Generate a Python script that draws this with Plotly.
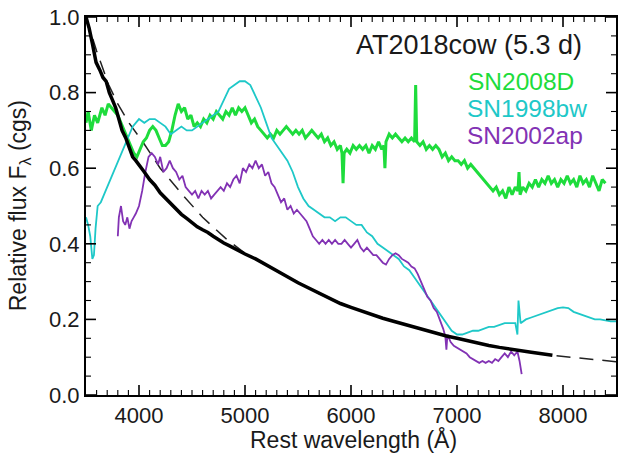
import plotly.graph_objects as go

# ---------------- data ----------------
green_wl = [3500,3520,3550,3580,3610,3650,3680,3710,3740,3770,3800,3830,3860,3890,3920,3950,3980,4010,4040,4070,
            4100,4130,4160,4190,4220,4250,4280,4310,4340,4370,4400,4430,4460,4490,4520,4550,4580,4610,4640,4670,
            4700,4730,4760,4790,4820,4850,4880,4910,4940,4970,5000,5030,5060,5090,5120,5150,5180,5210,5240,5270,
            5300,5330,5360,5390,5420,5450,5480,5510,5540,5570,5600,5630,5660,5690,5720,5750,5780,5810,5840,5870,
            5900,5915,5925,5935,5960,5990,6020,6050,6080,6110,6140,6170,6200,6230,6260,6290,6310,6320,6330,6360,
            6390,6420,6450,6480,6510,6540,6570,6600,6610,6620,6650,6680,6710,6740,6770,6800,6830,6860,6890,6920,
            6950,6980,7010,7040,7070,7100,7130,7160,7190,7220,7250,7280,7310,7340,7370,7400,7430,7460,7490,7520,
            7550,7575,7585,7595,7620,7650,7680,7710,7740,7770,7800,7830,7860,7890,7920,7950,7980,8010,8040,8070,
            8100,8130,8160,8190,8220,8250,8280,8310,8340,8370,8400]
green_fl = [0.72,0.75,0.70,0.74,0.72,0.76,0.74,0.77,0.76,0.75,0.74,0.72,0.70,0.68,0.66,0.64,0.63,0.65,0.67,0.68,
            0.70,0.71,0.70,0.68,0.66,0.66,0.67,0.70,0.74,0.77,0.75,0.76,0.73,0.74,0.71,0.72,0.71,0.73,0.72,0.74,
            0.73,0.75,0.74,0.73,0.75,0.74,0.76,0.74,0.76,0.75,0.76,0.74,0.72,0.73,0.71,0.70,0.69,0.68,0.69,0.68,
            0.70,0.69,0.70,0.71,0.70,0.69,0.70,0.69,0.70,0.68,0.69,0.70,0.69,0.68,0.69,0.67,0.68,0.66,0.67,0.65,
            0.66,0.64,0.56,0.64,0.65,0.64,0.66,0.65,0.66,0.65,0.66,0.64,0.66,0.65,0.67,0.65,0.66,0.60,0.67,0.69,
            0.68,0.69,0.68,0.67,0.68,0.67,0.68,0.67,0.82,0.67,0.66,0.67,0.65,0.66,0.65,0.66,0.65,0.63,0.64,0.62,
            0.63,0.62,0.62,0.61,0.62,0.60,0.61,0.60,0.59,0.58,0.57,0.56,0.55,0.54,0.55,0.53,0.54,0.52,0.55,0.53,
            0.55,0.54,0.59,0.53,0.55,0.54,0.56,0.55,0.57,0.55,0.57,0.56,0.58,0.56,0.57,0.55,0.57,0.56,0.58,0.56,
            0.57,0.55,0.58,0.56,0.57,0.55,0.58,0.56,0.54,0.57,0.56]

cyan_wl = [3500,3520,3540,3560,3575,3590,3610,3640,3670,3700,3730,3760,3790,3820,3850,3880,3910,3940,3970,4000,
           4050,4100,4150,4200,4250,4300,4350,4400,4450,4500,4550,4600,4650,4700,4750,4800,4850,4900,4950,5000,
           5050,5100,5150,5200,5250,5300,5350,5400,5450,5500,5550,5600,5650,5700,5750,5800,5850,5900,5950,6000,
           6050,6100,6150,6200,6250,6300,6350,6400,6450,6500,6550,6600,6650,6700,6750,6800,6850,6900,6950,7000,
           7050,7100,7150,7200,7250,7300,7350,7400,7450,7500,7550,7570,7580,7600,7650,7700,7750,7800,7850,7900,
           7950,8000,8050,8100,8150,8200,8250,8300,8350,8400,8450,8500]
cyan_fl = [0.47,0.45,0.42,0.36,0.37,0.44,0.50,0.51,0.53,0.55,0.57,0.59,0.61,0.63,0.65,0.67,0.69,0.71,0.72,0.73,
           0.72,0.73,0.73,0.72,0.71,0.69,0.70,0.71,0.70,0.70,0.71,0.72,0.73,0.74,0.75,0.78,0.81,0.82,0.83,0.83,
           0.82,0.79,0.76,0.72,0.68,0.66,0.64,0.62,0.59,0.55,0.52,0.50,0.49,0.48,0.47,0.47,0.46,0.47,0.47,0.46,
           0.45,0.45,0.43,0.42,0.40,0.39,0.38,0.37,0.36,0.34,0.33,0.31,0.29,0.27,0.25,0.23,0.21,0.19,0.17,0.16,
           0.16,0.165,0.17,0.17,0.175,0.18,0.18,0.185,0.19,0.19,0.19,0.16,0.25,0.19,0.20,0.205,0.21,0.215,0.22,0.225,
           0.23,0.232,0.23,0.22,0.215,0.21,0.205,0.20,0.20,0.197,0.195,0.195]

purple_wl = [3800,3810,3830,3850,3870,3890,3910,3930,3950,3970,4000,4030,4060,4090,4120,4150,4180,4200,4230,4260,
             4290,4320,4350,4380,4410,4440,4470,4500,4530,4560,4590,4620,4650,4680,4710,4740,4770,4800,4830,4860,
             4890,4920,4950,4980,5010,5040,5070,5100,5130,5160,5190,5220,5250,5280,5310,5340,5370,5400,5430,5460,
             5490,5520,5550,5580,5610,5640,5670,5700,5730,5760,5790,5820,5850,5880,5910,5940,5970,6000,6030,6060,
             6090,6120,6150,6180,6210,6240,6270,6300,6330,6360,6390,6420,6450,6480,6510,6540,6570,6600,6630,6660,
             6690,6720,6750,6780,6810,6840,6870,6890,6900,6910,6940,6970,7000,7030,7060,7090,7120,7150,7180,7210,
             7240,7270,7300,7330,7360,7390,7420,7450,7480,7510,7540,7570,7590,7610]
purple_fl = [0.42,0.47,0.50,0.46,0.45,0.47,0.44,0.46,0.47,0.48,0.50,0.54,0.59,0.63,0.64,0.63,0.61,0.63,0.59,0.60,
             0.62,0.60,0.59,0.57,0.58,0.55,0.54,0.53,0.54,0.52,0.54,0.53,0.54,0.52,0.53,0.54,0.55,0.54,0.56,0.55,
             0.57,0.58,0.56,0.60,0.59,0.61,0.60,0.62,0.60,0.61,0.58,0.59,0.56,0.55,0.53,0.51,0.52,0.49,0.50,0.48,
             0.49,0.48,0.47,0.46,0.44,0.42,0.41,0.40,0.41,0.40,0.41,0.40,0.41,0.40,0.40,0.41,0.40,0.39,0.40,0.41,
             0.39,0.38,0.39,0.38,0.37,0.37,0.36,0.35,0.345,0.36,0.37,0.375,0.37,0.36,0.355,0.35,0.34,0.335,0.32,0.30,
             0.28,0.26,0.25,0.23,0.22,0.20,0.175,0.155,0.12,0.16,0.14,0.13,0.125,0.12,0.115,0.11,0.10,0.095,0.09,0.085,
             0.09,0.085,0.09,0.085,0.095,0.09,0.10,0.11,0.10,0.115,0.105,0.115,0.09,0.055]

cow_wl = [3500,3530,3560,3595,3630,3660,3690,3720,3750,3780,3810,3840,3875,3910,3940,3970,4000,4050,4100,4150,
          4200,4250,4300,4350,4400,4450,4500,4550,4600,4650,4700,4750,4800,4850,4900,4950,5000,5100,5200,5300,
          5400,5500,5600,5700,5800,5900,6000,6100,6200,6300,6400,6500,6600,6700,6800,6900,7000,7100,7200,7300,
          7400,7500,7600,7700,7800,7900]
cow_fl = [1.00,0.97,0.93,0.88,0.86,0.84,0.83,0.80,0.78,0.76,0.73,0.70,0.68,0.65,0.63,0.62,0.61,0.59,0.57,0.555,
          0.535,0.52,0.505,0.49,0.478,0.467,0.455,0.445,0.437,0.43,0.42,0.41,0.402,0.395,0.387,0.38,0.373,0.36,0.345,0.33,
          0.313,0.297,0.283,0.268,0.255,0.242,0.232,0.222,0.212,0.203,0.195,0.187,0.18,0.172,0.163,0.156,0.15,0.143,0.137,0.131,
          0.126,0.121,0.117,0.113,0.109,0.105]

bb_wl = [3500,3600,3715,3800,3905,4035,4200,4410,4600,4815,5000,5200,5400,5700,6000,6300,6600,6900,7200,7500,
         7900,8200,8500]
bb_fl = [1.00,0.91,0.82,0.77,0.72,0.67,0.60,0.53,0.47,0.415,0.375,0.345,0.313,0.268,0.232,0.203,0.18,0.156,0.137,0.121,
         0.105,0.097,0.088]

x_major = [4000, 5000, 6000, 7000, 8000]
y_major = [0.0, 0.2, 0.4, 0.6, 0.8, 1.0]
x_range = [3500, 8500]
y_range = [0.0, 1.0]

GREEN = "#1edc3c"
CYAN = "#1ec8c8"
PURPLE = "#8232b4"
FONT = "Liberation Sans, Arial, Helvetica, sans-serif"
TXT = "#1a1a1a"

fig = go.Figure()
fig.add_trace(go.Scatter(x=bb_wl, y=bb_fl, mode="lines", line=dict(color="#222222", width=1.5, dash="14px,9px"),
                         showlegend=False))
fig.add_trace(go.Scatter(x=green_wl, y=green_fl, mode="lines", line=dict(color=GREEN, width=3), showlegend=False))
fig.add_trace(go.Scatter(x=cyan_wl, y=cyan_fl, mode="lines", line=dict(color=CYAN, width=1.8), showlegend=False))
fig.add_trace(go.Scatter(x=purple_wl, y=purple_fl, mode="lines", line=dict(color=PURPLE, width=1.8), showlegend=False))
fig.add_trace(go.Scatter(x=cow_wl, y=cow_fl, mode="lines", line=dict(color="black", width=3.5), showlegend=False))

L, R, T, B = 86, 618, 15, 395
W, H = 623, 455


def px(xp):
    return (xp - L) / (R - L)


def py(yp):
    return (B - yp) / (B - T)


labels = [
    ("AT2018cow (5.3 d)", 355, 43, "left", 27, TXT, 0),
    ("SN2008D", 467, 80, "left", 24.5, GREEN, 0),
    ("SN1998bw", 466, 107, "left", 24.5, CYAN, 0),
    ("SN2002ap", 466, 134, "left", 24.5, PURPLE, 0),
    ("Rest wavelength (Å)", 355, 440, "center", 23, TXT, 0),
    ("Relative flux F<sub>λ</sub> (cgs)", 19, 205, "center", 23, TXT, -90),
]
for text, xp, yp, anchor, size, color, angle in labels:
    fig.add_annotation(text=text, x=px(xp), y=py(yp), xref="paper", yref="paper", xanchor=anchor, yanchor="middle",
                       showarrow=False, textangle=angle, font=dict(family=FONT, size=size, color=color))

# inward tick marks on all four sides (major + minor), drawn as pixel-length shapes tied to the axes
x_minor = [v for v in range(x_range[0] + 100, x_range[1], 100) if v not in x_major]
y_minor = [round(0.05 * k, 2) for k in range(1, 20) if round(0.05 * k, 2) not in y_major]
for vals, ln, w in ((x_major, 10, 1.6), (x_minor, 5, 1.1)):
    for v in vals:
        for anchor, y0, y1 in ((0, 0, ln), (1, -ln, 0)):
            fig.add_shape(type="line", xref="x", yref="paper", x0=v, x1=v, ysizemode="pixel", yanchor=anchor,
                          y0=y0, y1=y1, line=dict(color="black", width=w), layer="above")
for vals, ln, w in ((y_major, 10, 1.6), (y_minor, 5, 1.1)):
    for v in vals:
        for anchor, x0, x1 in ((0, 0, ln), (1, -ln, 0)):
            fig.add_shape(type="line", yref="y", xref="paper", y0=v, y1=v, xsizemode="pixel", xanchor=anchor,
                          x0=x0, x1=x1, line=dict(color="black", width=w), layer="above")

fig.update_layout(width=W, height=H, margin=dict(l=L, r=W - R, t=T, b=H - B),
                  plot_bgcolor="white", paper_bgcolor="white")

fig.update_xaxes(range=x_range, tickvals=x_major, ticktext=[str(v) for v in x_major],
                 showline=True, linecolor="black", linewidth=2, mirror=True, ticks="",
                 showgrid=False, zeroline=False, tickfont=dict(family=FONT, size=22, color=TXT))
fig.update_yaxes(range=y_range, tickvals=y_major, ticktext=["%.1f" % v for v in y_major],
                 showline=True, linecolor="black", linewidth=2, mirror=True, ticks="",
                 showgrid=False, zeroline=False, tickfont=dict(family=FONT, size=22, color=TXT))

fig.write_html("out.html")
